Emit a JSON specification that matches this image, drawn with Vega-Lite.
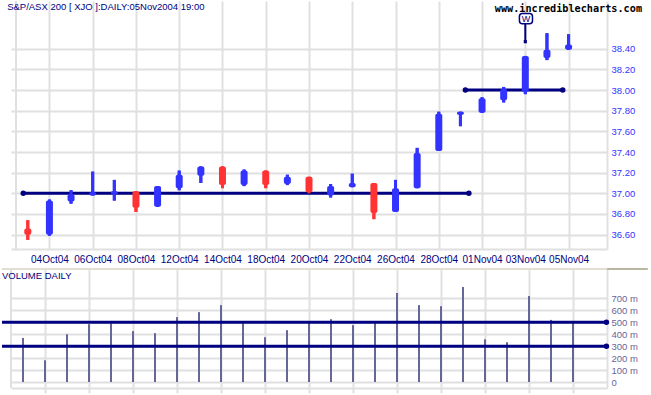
{
  "$schema": "https://vega.github.io/schema/vega-lite/v6.json",
  "padding": 0,
  "autosize": {"type": "pad"},
  "background": "white",
  "spacing": 20,
  "bounds": "flush",
  "config": {"view": {"stroke": null}, "axis": {"labelFont": "Liberation Sans", "labelOverlap": false, "labelFlush": false}, "text": {"font": "Liberation Sans"}},
  "datasets": {
    "ohlc": [
      {"i": 0, "date": "01Oct04", "open": 36.66, "high": 36.74, "low": 36.55, "close": 36.60, "vol": 369},
      {"i": 1, "date": "04Oct04", "open": 36.60, "high": 36.94, "low": 36.59, "close": 36.93, "vol": 182},
      {"i": 2, "date": "05Oct04", "open": 36.92, "high": 37.03, "low": 36.90, "close": 36.99, "vol": 400},
      {"i": 3, "date": "06Oct04", "open": 36.98, "high": 37.21, "low": 36.98, "close": 37.01, "vol": 484},
      {"i": 4, "date": "07Oct04", "open": 36.99, "high": 37.13, "low": 36.93, "close": 37.02, "vol": 493},
      {"i": 5, "date": "08Oct04", "open": 37.02, "high": 37.02, "low": 36.82, "close": 36.86, "vol": 426},
      {"i": 6, "date": "11Oct04", "open": 36.87, "high": 37.07, "low": 36.87, "close": 37.07, "vol": 409},
      {"i": 7, "date": "12Oct04", "open": 37.05, "high": 37.22, "low": 37.03, "close": 37.18, "vol": 543},
      {"i": 8, "date": "13Oct04", "open": 37.17, "high": 37.26, "low": 37.10, "close": 37.26, "vol": 585},
      {"i": 9, "date": "14Oct04", "open": 37.26, "high": 37.26, "low": 37.05, "close": 37.08, "vol": 644},
      {"i": 10, "date": "15Oct04", "open": 37.08, "high": 37.23, "low": 37.07, "close": 37.22, "vol": 493},
      {"i": 11, "date": "18Oct04", "open": 37.22, "high": 37.22, "low": 37.05, "close": 37.08, "vol": 375},
      {"i": 12, "date": "19Oct04", "open": 37.09, "high": 37.18, "low": 37.08, "close": 37.16, "vol": 434},
      {"i": 13, "date": "20Oct04", "open": 37.16, "high": 37.16, "low": 37.00, "close": 37.01, "vol": 510},
      {"i": 14, "date": "21Oct04", "open": 36.98, "high": 37.09, "low": 36.96, "close": 37.07, "vol": 526},
      {"i": 15, "date": "22Oct04", "open": 37.06, "high": 37.19, "low": 37.06, "close": 37.10, "vol": 476},
      {"i": 16, "date": "25Oct04", "open": 37.10, "high": 37.10, "low": 36.75, "close": 36.81, "vol": 504},
      {"i": 17, "date": "26Oct04", "open": 36.82, "high": 37.13, "low": 36.82, "close": 37.05, "vol": 745},
      {"i": 18, "date": "27Oct04", "open": 37.05, "high": 37.44, "low": 37.05, "close": 37.39, "vol": 644},
      {"i": 19, "date": "28Oct04", "open": 37.41, "high": 37.79, "low": 37.41, "close": 37.77, "vol": 635},
      {"i": 20, "date": "29Oct04", "open": 37.76, "high": 37.79, "low": 37.65, "close": 37.79, "vol": 795},
      {"i": 21, "date": "01Nov04", "open": 37.78, "high": 37.93, "low": 37.78, "close": 37.92, "vol": 358},
      {"i": 22, "date": "02Nov04", "open": 37.90, "high": 38.03, "low": 37.88, "close": 38.01, "vol": 333},
      {"i": 23, "date": "03Nov04", "open": 37.98, "high": 38.33, "low": 37.96, "close": 38.33, "vol": 720},
      {"i": 24, "date": "04Nov04", "open": 38.31, "high": 38.55, "low": 38.29, "close": 38.39, "vol": 520},
      {"i": 25, "date": "05Nov04", "open": 38.39, "high": 38.54, "low": 38.39, "close": 38.44, "vol": 504}
    ],
    "trend": [
      {"a": -0.21, "b": 20.39, "p": 37.0},
      {"a": 20.23, "b": 24.73, "p": 38.0}
    ],
    "trendDots": [
      {"i": -0.21, "p": 37.0},
      {"i": 20.39, "p": 37.0},
      {"i": 20.23, "p": 38.0},
      {"i": 24.73, "p": 38.0}
    ],
    "levels": [
      {"a": -0.954, "b": 26.52, "v": 500},
      {"a": -0.954, "b": 26.52, "v": 300}
    ]
  },
  "vconcat": [
    {
      "width": 596,
      "height": 248,
      "layer": [
        {
          "data": {"name": "ohlc"},
          "mark": {"type": "rule", "strokeWidth": 3},
          "encoding": {
            "x": {
              "field": "i", "type": "quantitative", "title": null,
              "scale": {"domain": [-0.545, 26.545], "nice": false, "zero": false},
              "axis": {
                "title": null, "orient": "bottom",
                "values": [1, 3, 5, 7, 9, 11, 13, 15, 17, 19, 21, 23, 25],
                "tickCount": 40,
                "labelExpr": "['01Oct04','04Oct04','05Oct04','06Oct04','07Oct04','08Oct04','11Oct04','12Oct04','13Oct04','14Oct04','15Oct04','18Oct04','19Oct04','20Oct04','21Oct04','22Oct04','25Oct04','26Oct04','27Oct04','28Oct04','29Oct04','01Nov04','02Nov04','03Nov04','04Nov04','05Nov04'][datum.value]",
                "grid": true, "gridColor": "#e0e0e0", "gridWidth": 2,
                "domain": true, "domainColor": "#e0e0e0", "domainWidth": 2,
                "ticks": false, "labelPadding": 5,
                "labelColor": "#000080", "labelFontSize": 10,
                "labelOverlap": false, "labelFlush": false
              }
            },
            "y": {
              "field": "low", "type": "quantitative", "title": null,
              "scale": {"domain": [36.461, 38.862], "nice": false, "zero": false},
              "axis": {
                "title": null, "orient": "right",
                "values": [36.6, 36.8, 37.0, 37.2, 37.4, 37.6, 37.8, 38.0, 38.2, 38.4],
                "tickCount": 40,
                "format": ".2f",
                "grid": true, "gridColor": "#e0e0e0", "gridWidth": 2,
                "domain": true, "domainColor": "#e0e0e0", "domainWidth": 2,
                "ticks": false, "labelPadding": 4,
                "labelOverlap": false, "labelFlush": false,
                "labelColor": "#3333ff", "labelFontSize": 9.5
              }
            },
            "y2": {"field": "high"},
            "color": {"condition": {"test": "datum.open <= datum.close", "value": "#3333ff"}, "value": "#ff3333"}
          }
        },
        {
          "data": {"values": [{"b": -0.545}]},
          "mark": {"type": "rule", "color": "#e0e0e0", "strokeWidth": 2},
          "encoding": {"x": {"field": "b", "type": "quantitative", "title": null}}
        },
        {
          "data": {"name": "trend"},
          "mark": {"type": "rule", "color": "#000080", "strokeWidth": 3},
          "encoding": {
            "x": {"field": "a", "type": "quantitative", "title": null},
            "x2": {"field": "b"},
            "y": {"field": "p", "type": "quantitative", "title": null}
          }
        },
        {
          "data": {"name": "ohlc"},
          "mark": {"type": "rule", "strokeWidth": 3},
          "encoding": {
            "x": {"field": "i", "type": "quantitative", "title": null},
            "y": {"field": "low", "type": "quantitative", "title": null},
            "y2": {"field": "high"},
            "color": {"condition": {"test": "datum.open <= datum.close", "value": "#3333ff"}, "value": "#ff3333"}
          }
        },
        {
          "data": {"name": "ohlc"},
          "mark": {"type": "bar", "size": 7, "cornerRadius": 2},
          "encoding": {
            "x": {"field": "i", "type": "quantitative", "title": null},
            "y": {"field": "open", "type": "quantitative", "title": null},
            "y2": {"field": "close"},
            "color": {"condition": {"test": "datum.open <= datum.close", "value": "#3333ff"}, "value": "#ff3333"}
          }
        },
        {
          "data": {"name": "trendDots"},
          "mark": {"type": "circle", "color": "#000080", "opacity": 1, "size": 30},
          "encoding": {
            "x": {"field": "i", "type": "quantitative", "title": null},
            "y": {"field": "p", "type": "quantitative", "title": null}
          }
        },
        {
          "data": {"values": [{"i": 23, "p1": 38.642, "p2": 38.468}]},
          "mark": {"type": "rule", "color": "#000080", "strokeWidth": 2},
          "encoding": {
            "x": {"field": "i", "type": "quantitative", "title": null},
            "y": {"field": "p1", "type": "quantitative", "title": null},
            "y2": {"field": "p2"}
          }
        },
        {
          "data": {"values": [{"i": 23, "p": 38.468}]},
          "mark": {"type": "square", "color": "#000080", "opacity": 1, "filled": true, "size": 10},
          "encoding": {
            "x": {"field": "i", "type": "quantitative", "title": null},
            "y": {"field": "p", "type": "quantitative", "title": null}
          }
        },
        {
          "data": {"values": [{"a": 22.727, "b": 23.332, "p1": 38.742, "p2": 38.642}]},
          "mark": {"type": "bar", "fill": "white", "stroke": "#000080", "strokeWidth": 1.5, "cornerRadius": 3},
          "encoding": {
            "x": {"field": "a", "type": "quantitative", "title": null},
            "x2": {"field": "b"},
            "y": {"field": "p1", "type": "quantitative", "title": null},
            "y2": {"field": "p2"}
          }
        },
        {
          "data": {"values": [{"i": 23.03, "p": 38.692, "t": "W"}]},
          "mark": {"type": "text", "color": "#000080", "fontSize": 9, "align": "center", "baseline": "middle"},
          "encoding": {
            "x": {"field": "i", "type": "quantitative", "title": null},
            "y": {"field": "p", "type": "quantitative", "title": null},
            "text": {"field": "t"}
          }
        },
        {
          "data": {"values": [{"i": -0.955, "p": 38.772, "t": "S&P/ASX 200 [ XJO ]:DAILY:05Nov2004 19:00"}]},
          "mark": {"type": "text", "color": "#000080", "fontSize": 9.5, "align": "left", "baseline": "alphabetic"},
          "encoding": {
            "x": {"field": "i", "type": "quantitative", "title": null},
            "y": {"field": "p", "type": "quantitative", "title": null},
            "text": {"field": "t"}
          }
        },
        {
          "data": {"values": [{"i": 21.59, "p": 38.755, "t": "www.incrediblecharts.com"}]},
          "mark": {"type": "text", "color": "#000000", "font": "DejaVu Sans Mono", "fontWeight": "bold", "fontSize": 10.2, "align": "left", "baseline": "alphabetic"},
          "encoding": {
            "x": {"field": "i", "type": "quantitative", "title": null},
            "y": {"field": "p", "type": "quantitative", "title": null},
            "text": {"field": "t"}
          }
        }
      ]
    },
    {
      "width": 596,
      "height": 119,
      "layer": [
        {
          "data": {"name": "ohlc"},
          "mark": {"type": "rule", "color": "#666699", "strokeWidth": 2},
          "encoding": {
            "x": {
              "field": "i", "type": "quantitative", "title": null,
              "scale": {"domain": [-0.545, 26.545], "nice": false, "zero": false},
              "axis": {
                "title": null, "orient": "bottom",
                "values": [1, 3, 5, 7, 9, 11, 13, 15, 17, 19, 21, 23, 25],
                "tickCount": 40,
                "labels": false,
                "grid": true, "gridColor": "#e0e0e0", "gridWidth": 2,
                "domain": true, "domainColor": "#e0e0e0", "domainWidth": 2,
                "ticks": true, "tickColor": "#e0e0e0", "tickWidth": 2, "tickSize": 5
              }
            },
            "y": {
              "field": "vol", "type": "quantitative", "title": null,
              "scale": {"domain": [-50, 946], "nice": false, "zero": false},
              "axis": {
                "title": null, "orient": "right",
                "values": [0, 100, 200, 300, 400, 500, 600, 700],
                "tickCount": 40,
                "labelExpr": "datum.value == 0 ? '0' : datum.value + ' m'",
                "grid": true, "gridColor": "#e0e0e0", "gridWidth": 2,
                "domain": true, "domainColor": "#e0e0e0", "domainWidth": 2,
                "ticks": false, "labelPadding": 4,
                "labelOverlap": false, "labelFlush": false,
                "labelColor": "#666699", "labelFontSize": 9.5
              }
            },
            "y2": {"datum": 0}
          }
        },
        {
          "data": {"values": [{"b": -0.545}]},
          "mark": {"type": "rule", "color": "#e0e0e0", "strokeWidth": 2},
          "encoding": {"x": {"field": "b", "type": "quantitative", "title": null}}
        },
        {
          "data": {"values": [{"a": -0.954, "b": 26.545, "v": 946, "c": "light"}, {"a": 26.545, "b": 28.4, "v": 946, "c": "dark"}]},
          "mark": {"type": "rule", "strokeWidth": 2},
          "encoding": {
            "x": {"field": "a", "type": "quantitative", "title": null},
            "x2": {"field": "b"},
            "y": {"field": "v", "type": "quantitative", "title": null},
            "color": {"field": "c", "type": "nominal", "scale": {"domain": ["light", "dark"], "range": ["#e2dfd2", "#b9b6a2"]}, "legend": null}
          }
        },
        {
          "data": {"name": "levels"},
          "mark": {"type": "rule", "color": "#000080", "strokeWidth": 3},
          "encoding": {
            "x": {"field": "a", "type": "quantitative", "title": null},
            "x2": {"field": "b"},
            "y": {"field": "v", "type": "quantitative", "title": null}
          }
        },
        {
          "data": {"name": "levels"},
          "mark": {"type": "circle", "color": "#000080", "opacity": 1, "size": 30},
          "encoding": {
            "x": {"field": "b", "type": "quantitative", "title": null},
            "y": {"field": "v", "type": "quantitative", "title": null}
          }
        },
        {
          "data": {"values": [{"i": -0.955, "v": 866, "t": "VOLUME DAILY"}]},
          "mark": {"type": "text", "color": "#000080", "fontSize": 9.5, "align": "left", "baseline": "alphabetic"},
          "encoding": {
            "x": {"field": "i", "type": "quantitative", "title": null},
            "y": {"field": "v", "type": "quantitative", "title": null},
            "text": {"field": "t"}
          }
        }
      ]
    }
  ]
}
